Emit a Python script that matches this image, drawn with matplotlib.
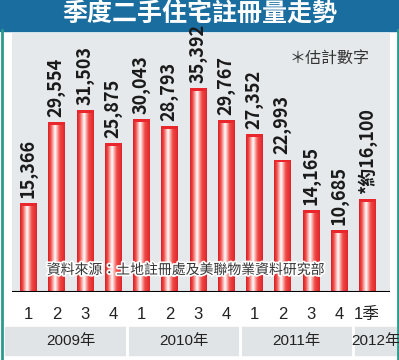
import matplotlib.pyplot as plt
import numpy as np
import matplotlib.patheffects as pe
from matplotlib.colors import LinearSegmentedColormap
from matplotlib.patches import Rectangle

plt.rcParams['font.family'] = ['Noto Sans CJK TC', 'DejaVu Sans']

# data
quarters = ['1', '2', '3', '4', '1', '2', '3', '4', '1', '2', '3', '4', '1季']
values = [15366, 29554, 31503, 25875, 30043, 28793, 35392, 29767,
          27352, 22993, 14165, 10685, 16100]
labels = ['15,366', '29,554', '31,503', '25,875', '30,043', '28,793', '35,392',
          '29,767', '27,352', '22,993', '14,165', '10,685', '*約16,100']
years = ['2009年', '2010年', '2011年', '2012年']
year_spans = [(0, 3), (4, 7), (8, 11), (12, 12)]

W, H = 399, 360
fig = plt.figure(figsize=(W / 100, H / 100), dpi=100)
fig.patch.set_facecolor('white')

# outer frame and title band
bg = fig.add_axes([0, 0, 1, 1])
bg.set_xlim(0, W)
bg.set_ylim(H, 0)
bg.axis('off')
bg.add_patch(Rectangle((0, 0), W, 31, color='#1a6d9f', zorder=1))
bg.plot([1.5, 1.5], [30, H], color='#2a9a8c', lw=2)
bg.plot([397.5, 397.5], [30, H], color='#2a9a8c', lw=2)
bg.text(W / 2, 14.5, '季度二手住宅註冊量走勢', color='white', fontsize=18,
        fontweight='heavy', ha='center', va='center')
# year band
bg.add_patch(Rectangle((5, 327), 392, 28, color='#e1e4e6', zorder=1))

ax = fig.add_axes([12 / W, (H - 292) / H, (390 - 12) / W, (292 - 33) / H])
ax.set_facecolor('#e5e9eb')
x = np.arange(len(values))
ax.set_xlim(-0.57, 12.81)
ax.set_ylim(0, 44950)
w = 0.57

bars = ax.bar(x, values, width=w, color='#e8262b', zorder=2)
cmap = LinearSegmentedColormap.from_list(
    'bar', [(0, '#d81e24'), (0.15, '#f04a45'), (0.42, '#ffffff'),
            (0.7, '#f04a45'), (1, '#e0252a')])
grad = np.linspace(0, 1, 64).reshape(1, -1)
for b in bars:
    x0, y0 = b.get_x(), b.get_y()
    im = ax.imshow(grad, cmap=cmap, aspect='auto', zorder=3,
                   extent=[x0, x0 + b.get_width(), y0, y0 + b.get_height()])
    im.set_clip_path(b)
    ax.add_patch(Rectangle((x0, b.get_height() - 500), b.get_width(), 500,
                           color='#e8262b', zorder=4, lw=0))

for i, (v, t) in enumerate(zip(values, labels)):
    ax.text(i, v + 900, t, rotation=90, ha='center', va='bottom', fontsize=13,
            fontweight='bold', color='#1a1a1a',
            family=['Liberation Sans Narrow', 'Noto Sans CJK TC'], zorder=5)

ax.text(0.735, 0.9, '＊估計數字', transform=ax.transAxes, fontsize=11.5,
        color='#333333', ha='left', va='center')
ax.text(0.092, 0.085, '資料來源：土地註冊處及美聯物業資料研究部', transform=ax.transAxes,
        fontsize=10, color='#333333', ha='left', va='center', zorder=6,
        path_effects=[pe.withStroke(linewidth=2.5, foreground='white')])

ax.axhline(0, color='black', lw=1.5, zorder=6)
ax.set_xticks(x)
ax.set_xticklabels(quarters, fontsize=12, color='#222222',
                   family=['Liberation Sans', 'Noto Sans CJK TC'])
ax.tick_params(axis='x', length=0, pad=11)
ax.set_yticks([])
for s in ax.spines.values():
    s.set_visible(False)

# year labels below
for yr, (a, b2) in zip(years, year_spans):
    cx = (a + b2) / 2
    if yr == '2012年':
        cx = 12.3
    ax.text(cx, -0.19, yr, transform=ax.get_xaxis_transform(), ha='center',
            va='center', fontsize=11, color='#222222', clip_on=False,
            family=['Liberation Sans', 'Noto Sans CJK TC'])
for sep in [3.5, 7.5, 11.5]:
    ax.plot([sep, sep], [-0.13, -0.255], transform=ax.get_xaxis_transform(),
            color='white', lw=2, clip_on=False)

fig.savefig('out.png', dpi=100)
